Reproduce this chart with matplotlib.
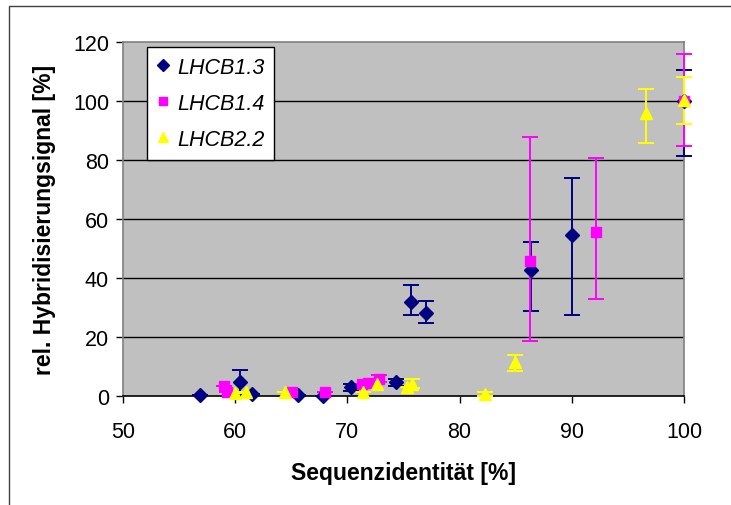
import matplotlib
matplotlib.use("Agg")
import matplotlib.pyplot as plt
from matplotlib.patches import Rectangle
from matplotlib.lines import Line2D

plt.rcParams['font.family'] = ['Liberation Sans', 'DejaVu Sans']

# Sequence identity [%], relative hybridisation signal [%] and its error
lhcb13_x = [56.9, 60.4, 61.5, 65.6, 67.8, 70.3, 74.3, 75.7, 77.0, 86.4, 90.0, 100.0]
lhcb13_y = [0.4, 4.6, 0.6, 0.4, 0.1, 2.9, 4.6, 31.8, 28.2, 42.8, 54.6, 100.0]
lhcb13_lo = [0.0, 4.1, 0.0, 0.0, 0.0, 1.3, 1.3, 4.2, 3.5, 14.0, 27.0, 18.8]
lhcb13_hi = [0.0, 4.1, 0.0, 0.0, 0.0, 1.3, 1.3, 5.8, 4.0, 9.4, 19.4, 10.5]

lhcb14_x = [59.0, 59.3, 65.1, 68.0, 71.3, 71.8, 72.8, 86.3, 92.2, 100.0]
lhcb14_y = [3.3, 1.5, 1.5, 1.5, 4.1, 4.4, 5.8, 45.7, 55.5, 100.0]
lhcb14_lo = [0.0, 0.0, 0.0, 0.0, 0.0, 0.0, 1.2, 26.9, 22.6, 15.3]
lhcb14_hi = [0.0, 0.0, 0.0, 0.0, 0.0, 0.0, 1.2, 42.0, 25.1, 15.8]

lhcb22_x = [60.0, 61.0, 64.4, 71.4, 72.6, 75.3, 75.8, 82.3, 84.9, 96.6, 100.0]
lhcb22_y = [1.0, 1.2, 1.3, 1.5, 4.1, 2.9, 4.1, 0.7, 11.4, 96.1, 100.5]
lhcb22_lo = [0.0, 0.0, 0.0, 0.0, 0.0, 0.0, 1.5, 0.6, 3.0, 10.4, 8.2]
lhcb22_hi = [0.0, 0.0, 0.0, 0.0, 0.0, 0.0, 1.5, 0.8, 2.6, 7.9, 7.7]

series_names = ["LHCB1.3", "LHCB1.4", "LHCB2.2"]
x_ticks = [50, 60, 70, 80, 90, 100]
y_ticks = [0, 20, 40, 60, 80, 100, 120]

navy = "#000080"
magenta = "#FF00FF"
yellow = "#FFFF00"

fig = plt.figure(figsize=(7.31, 5.06), dpi=100)
fig.patch.set_facecolor("white")

# thin frame around the chart
fig.patches.append(Rectangle((9 / 731, -0.2), 1.2, 1.2 - 7 / 506,
                             transform=fig.transFigure, fill=False,
                             edgecolor="#404040", linewidth=1.0))

ax = fig.add_axes([123 / 731, 1 - 397 / 506, (684 - 123) / 731, (397 - 43) / 506])
ax.set_facecolor("#C0C0C0")
ax.set_xlim(50, 100)
ax.set_ylim(0, 120)
ax.set_xticks(x_ticks)
ax.set_yticks(y_ticks)
ax.tick_params(axis="both", labelsize=15.5, direction="out", length=5, width=1,
               color="black")
ax.tick_params(axis="x", pad=13)
ax.tick_params(axis="y", pad=5)

for y in y_ticks[1:-1]:
    ax.axhline(y, color="black", lw=1.0, zorder=1)

for side in ["left", "top", "right"]:
    ax.spines[side].set_color("#808080")
    ax.spines[side].set_linewidth(1.2)
ax.spines["bottom"].set_color("black")
ax.spines["bottom"].set_linewidth(1.2)

common = dict(ls="none", capsize=6, elinewidth=1.4, capthick=1.4, zorder=3)
containers = [
    ax.errorbar(lhcb13_x, lhcb13_y, yerr=[lhcb13_lo, lhcb13_hi], fmt="D",
                color=navy, ecolor=navy, markersize=7, **common),
    ax.errorbar(lhcb14_x, lhcb14_y, yerr=[lhcb14_lo, lhcb14_hi], fmt="s",
                color=magenta, ecolor=magenta, markersize=7, **common),
    ax.errorbar(lhcb22_x, lhcb22_y, yerr=[lhcb22_lo, lhcb22_hi], fmt="^",
                color=yellow, ecolor=yellow, markersize=9, **common),
]
for eb in containers:
    data_line, caps, bars = eb.lines
    for artist in [data_line, *caps, *bars]:
        artist.set_clip_on(False)

ax.set_xlabel("Sequenzidentität [%]", fontsize=16.5, fontweight="bold", labelpad=14)
ax.set_ylabel("rel. Hybridisierungsignal [%]", fontsize=16.5, fontweight="bold", labelpad=12)

handles = [
    Line2D([], [], ls="none", marker="D", color=navy, markersize=6),
    Line2D([], [], ls="none", marker="s", color=magenta, markersize=6),
    Line2D([], [], ls="none", marker="^", color=yellow, markersize=7),
]
leg = ax.legend(handles, series_names, loc="upper left",
                bbox_to_anchor=((147 - 123) / 561, 1 - (48 - 43) / 354),
                prop={"size": 15.5, "style": "italic"}, frameon=True,
                fancybox=False, edgecolor="black", framealpha=1,
                handlelength=0.6, handletextpad=0.35, labelspacing=0.7,
                borderpad=0.45, borderaxespad=0)
leg.get_frame().set_linewidth(1.0)

fig.savefig("out.png", dpi=100)
